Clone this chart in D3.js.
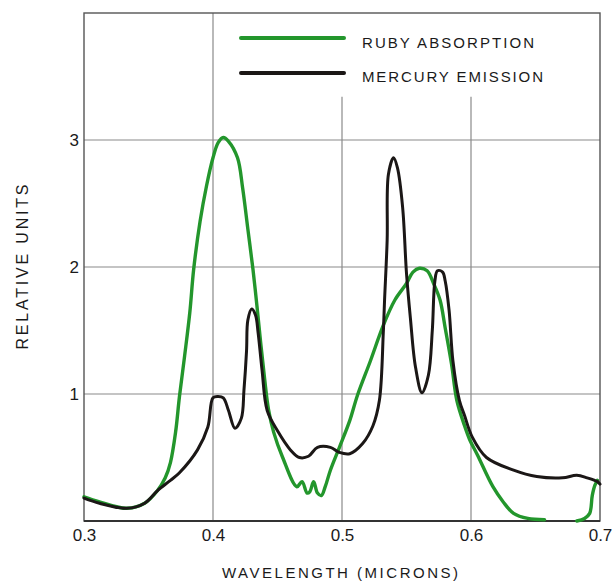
<!DOCTYPE html>
<html><head><meta charset="utf-8">
<script src="https://cdn.jsdelivr.net/npm/d3@7"></script>
<style>
html,body{margin:0;padding:0;background:#fff;}
svg{display:block;}
text{font-family:"Liberation Sans",Arial,sans-serif;fill:#1a1a1a;}
</style></head>
<body>
<svg id="chart" width="613" height="581"></svg>
<script>
// ---- data ----
const xTicks = [0.3, 0.4, 0.5, 0.6, 0.7];
const xTickLabels = ["0.3", "0.4", "0.5", "0.6", "0.7"];
const yTicks = [1, 2, 3];
const yTickLabels = ["1", "2", "3"];
const seriesNames = ["RUBY ABSORPTION", "MERCURY EMISSION"];

const mercuryWavelength = [0.300,0.312,0.333,0.347,0.357,0.367,0.374,0.388,0.396,0.400,0.404,0.408,0.412,0.417,0.422,0.424,0.426,0.427,0.430,0.433,0.435,0.438,0.442,0.450,0.460,0.467,0.474,0.481,0.491,0.498,0.506,0.516,0.524,0.529,0.532,0.533,0.535,0.536,0.540,0.543,0.547,0.550,0.553,0.557,0.562,0.567,0.570,0.572,0.574,0.578,0.580,0.583,0.586,0.591,0.595,0.601,0.612,0.633,0.651,0.671,0.682,0.690,0.698,0.700];
const mercuryValues = [0.18,0.14,0.10,0.14,0.24,0.32,0.38,0.56,0.74,0.97,0.98,0.97,0.87,0.73,0.81,1.03,1.34,1.58,1.67,1.62,1.48,1.19,0.87,0.71,0.56,0.50,0.51,0.58,0.58,0.54,0.53,0.61,0.75,0.95,1.48,1.74,2.21,2.73,2.86,2.78,2.47,1.95,1.60,1.21,1.01,1.15,1.50,1.89,1.97,1.96,1.89,1.66,1.26,0.95,0.83,0.66,0.50,0.40,0.35,0.34,0.36,0.34,0.31,0.29];

const rubyWavelength = [0.300,0.312,0.333,0.347,0.357,0.363,0.367,0.371,0.374,0.378,0.382,0.385,0.390,0.395,0.400,0.404,0.408,0.412,0.419,0.423,0.427,0.431,0.434,0.437,0.440,0.443,0.447,0.454,0.465,0.469,0.473,0.475,0.478,0.481,0.484,0.487,0.491,0.498,0.506,0.512,0.522,0.532,0.541,0.550,0.555,0.560,0.566,0.571,0.576,0.580,0.585,0.589,0.595,0.599,0.605,0.617,0.625,0.633,0.644,0.657,0.670,0.682,0.688,0.692,0.694,0.696,0.698];
const rubyValues = [0.19,0.15,0.10,0.14,0.24,0.34,0.46,0.70,0.98,1.30,1.64,1.98,2.36,2.64,2.86,2.98,3.02,2.99,2.86,2.62,2.30,1.98,1.70,1.40,1.12,0.88,0.70,0.50,0.27,0.31,0.22,0.23,0.31,0.22,0.20,0.27,0.40,0.58,0.79,0.99,1.26,1.54,1.74,1.87,1.96,1.99,1.97,1.87,1.74,1.52,1.23,0.95,0.75,0.64,0.52,0.27,0.15,0.06,0.02,0.01,null,0.00,0.02,0.06,0.20,0.28,0.32];

// ---- layout ----
const svg = d3.select("#chart");
const pLeft = 84, pRight = 600, pTop = 13, pBottom = 521;
const x = d3.scaleLinear().domain([0.3, 0.7]).range([pLeft, pRight]);
const y = d3.scaleLinear().domain([0, 4]).range([pBottom, pTop]);

const GREEN = "#23962c", BLACK = "#1b1716", GRID = "#8a8a8a";

// grid
const g = svg.append("g");
yTicks.forEach(v => {
  g.append("line").attr("x1", pLeft).attr("x2", pRight).attr("y1", y(v)).attr("y2", y(v))
    .attr("stroke", GRID).attr("stroke-width", 1.2);
});
[0.4, 0.5, 0.6].forEach(v => {
  g.append("line").attr("x1", x(v)).attr("x2", x(v))
    .attr("y1", v === 0.4 ? pTop : y(3.34)).attr("y2", pBottom)
    .attr("stroke", GRID).attr("stroke-width", 1.2);
});
// frame
g.append("rect").attr("x", pLeft).attr("y", pTop).attr("width", pRight - pLeft).attr("height", pBottom - pTop)
  .attr("fill", "none").attr("stroke", "#555").attr("stroke-width", 1.4);
g.append("line").attr("x1", pLeft).attr("x2", pRight).attr("y1", pBottom).attr("y2", pBottom)
  .attr("stroke", "#333").attr("stroke-width", 2);

// axes labels via d3 axes (no lines)
const xAxis = d3.axisBottom(x).tickValues(xTicks).tickFormat((d, i) => xTickLabels[i]).tickSize(0).tickPadding(8);
const xa = svg.append("g").attr("transform", `translate(0,${pBottom})`).call(xAxis);
xa.select(".domain").remove();
xa.selectAll("text").attr("font-size", 17).attr("font-family", "Liberation Sans, Arial, sans-serif").attr("fill", "#1a1a1a");

const yAxis = d3.axisLeft(y).tickValues(yTicks).tickFormat((d, i) => yTickLabels[i]).tickSize(0).tickPadding(5);
const ya = svg.append("g").attr("transform", `translate(${pLeft},0)`).call(yAxis);
ya.select(".domain").remove();
ya.selectAll("text").attr("font-size", 17).attr("font-family", "Liberation Sans, Arial, sans-serif").attr("fill", "#1a1a1a");

// titles
svg.append("text").attr("x", 340).attr("y", 578).attr("text-anchor", "middle")
  .attr("font-size", 15).attr("textLength", 236).attr("lengthAdjust", "spacing")
  .text("WAVELENGTH (MICRONS)");
svg.append("text").attr("transform", "translate(28,267) rotate(-90)").attr("text-anchor", "middle")
  .attr("font-size", 16).attr("textLength", 165).attr("lengthAdjust", "spacing")
  .text("RELATIVE UNITS");

// lines
const line = d3.line().defined(d => d[1] !== null).x(d => x(d[0])).y(d => y(d[1])).curve(d3.curveCatmullRom.alpha(0.5));
const rubyData = rubyWavelength.map((w, i) => [w, rubyValues[i]]);
const mercData = mercuryWavelength.map((w, i) => [w, mercuryValues[i]]);

svg.append("path").datum(rubyData).attr("d", line).attr("fill", "none")
  .attr("stroke", GREEN).attr("stroke-width", 3.4).attr("stroke-linejoin", "round").attr("stroke-linecap", "round");
svg.append("path").datum(mercData).attr("d", line).attr("fill", "none")
  .attr("stroke", BLACK).attr("stroke-width", 3).attr("stroke-linejoin", "round").attr("stroke-linecap", "round");

// legend
const legend = [
  {name: seriesNames[0], color: GREEN, ly: 38, ty: 48, tl: 172},
  {name: seriesNames[1], color: BLACK, ly: 73, ty: 82, tl: 181}
];
legend.forEach(l => {
  svg.append("line").attr("x1", 241).attr("x2", 344).attr("y1", l.ly).attr("y2", l.ly)
    .attr("stroke", l.color).attr("stroke-width", 4).attr("stroke-linecap", "round");
  svg.append("text").attr("x", 362).attr("y", l.ty).attr("font-size", 15)
    .attr("textLength", l.tl).attr("lengthAdjust", "spacing").text(l.name);
});
</script>
</body></html>
